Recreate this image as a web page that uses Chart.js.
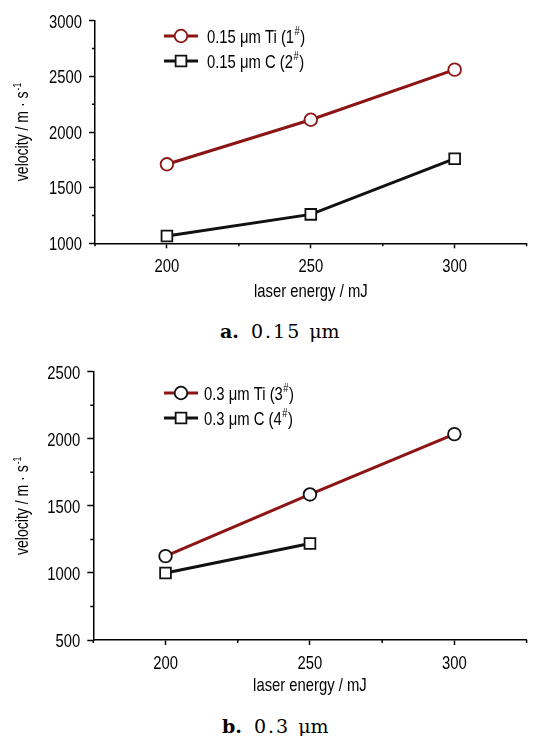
<!DOCTYPE html>
<html>
<head>
<meta charset="utf-8">
<script src="https://cdn.jsdelivr.net/npm/chart.js@4.4.1/dist/chart.umd.min.js"></script>
<style>
  body { margin: 0; background: #fff; }
  #page { position: relative; width: 536px; height: 736px; overflow: hidden; background: #fff; }
  .plot { position: absolute; left: 0; }
  .cap { position: absolute; font-family: 'DejaVu Serif', 'Liberation Serif', serif; font-size: 19px; line-height: 19px; white-space: pre; color: #000; }
  .cap b { margin-right: 12px; }
  .cap .num { letter-spacing: 2px; margin-right: 8px; }
</style>
</head>
<body>
<div id="page">
  <canvas id="chartA" class="plot" style="top:0" width="536" height="301"></canvas>
  <div class="cap" style="left:220px;top:322px"><b>a.</b><span class="num">0.15</span><span>μm</span></div>
  <canvas id="chartB" class="plot" style="top:350px" width="536" height="348"></canvas>
  <div class="cap" style="left:222px;top:717px"><b>b.</b><span class="num">0.3</span><span>μm</span></div>
</div>
<script>
// laser energy (mJ) on the x axis
var energy = [200, 250, 300];
var energyTicks = [200, 250, 300];

// panel a: 0.15 um films
var tiA = [1710, 2110, 2560];
var cA = [1065, 1260, 1760];
var velTicksA = [1000, 1500, 2000, 2500, 3000];
var labelsA = ['0.15 μm Ti', '0.15 μm C'];
var sampleNoA = ['1', '2'];

// panel b: 0.3 um films (no C shot at 300 mJ)
var tiB = [1125, 1585, 2035];
var cB = [1000, 1220, null];
var velTicksB = [500, 1000, 1500, 2000, 2500];
var labelsB = ['0.3 μm Ti', '0.3 μm C'];
var sampleNoB = ['3', '4'];

var FONT = "'Liberation Sans', Arial, sans-serif";
var SQUEEZE = 0.78;   // Arial Narrow look from Liberation Sans
var TXT = 19;
var RED = '#8c1414';
var BLACK = '#111';

function toPoints(ys) {
    var pts = [];
    for (var i = 0; i < energy.length; i++) {
        if (ys[i] !== null && ys[i] !== undefined) pts.push({ x: energy[i], y: ys[i] });
    }
    return pts;
}

// ticks halfway between the labelled ones, plus one step past each end
function minorsOf(ticks) {
    var half = (ticks[1] - ticks[0]) / 2;
    var out = [ticks[0] - half];
    ticks.forEach(function (t) { out.push(t + half); });
    return out;
}

// horizontally squeezed text, returns drawn width
function narrowText(ctx, text, x, y, align, size) {
    ctx.save();
    ctx.font = size + 'px ' + FONT;
    ctx.textAlign = 'left';
    ctx.textBaseline = 'alphabetic';
    var w = ctx.measureText(text).width * SQUEEZE;
    var left = align === 'right' ? x - w : (align === 'center' ? x - w / 2 : x);
    ctx.translate(left, y);
    ctx.scale(SQUEEZE, 1);
    ctx.fillText(text, 0, 0);
    ctx.restore();
    return w;
}
function narrowWidth(ctx, text, size) {
    ctx.save();
    ctx.font = size + 'px ' + FONT;
    var w = ctx.measureText(text).width * SQUEEZE;
    ctx.restore();
    return w;
}

var minorTicks = {
    id: 'minorTicks',
    afterDraw: function (chart, args, o) {
        var ctx = chart.ctx, xs = chart.scales.x, ys = chart.scales.y;
        ctx.save();
        ctx.strokeStyle = '#000';
        ctx.lineWidth = 1.5;
        ctx.beginPath();
        o.x.forEach(function (v) {
            if (v < xs.min || v > xs.max) return;
            var px = xs.getPixelForValue(v);
            ctx.moveTo(px, xs.top);
            ctx.lineTo(px, xs.top + o.len);
        });
        o.y.forEach(function (v) {
            if (v < ys.min || v > ys.max) return;
            var py = ys.getPixelForValue(v);
            ctx.moveTo(ys.right, py);
            ctx.lineTo(ys.right - o.len, py);
        });
        ctx.stroke();
        ctx.restore();
    }
};

// tick labels and axis titles in the narrow face
var axisText = {
    id: 'axisText',
    afterDraw: function (chart, args, o) {
        var ctx = chart.ctx, xs = chart.scales.x, ys = chart.scales.y;
        var half = 0.716 * TXT / 2;
        ctx.save();
        ctx.fillStyle = '#000';
        xs.ticks.forEach(function (t) {
            narrowText(ctx, String(t.value), xs.getPixelForValue(t.value), xs.top + 28.5, 'center', TXT);
        });
        ys.ticks.forEach(function (t) {
            narrowText(ctx, String(t.value), ys.right - 13, ys.getPixelForValue(t.value) + half, 'right', TXT);
        });
        narrowText(ctx, o.xTitle, (xs.left + xs.right) / 2, xs.top + o.xTitleGap, 'center', TXT);

        // y title, rotated, with superscript unit power
        var main = o.yTitle[0], sup = o.yTitle[1];
        var wMain = narrowWidth(ctx, main, 18), wSup = narrowWidth(ctx, sup, 11);
        var mid = (ys.top + ys.bottom) / 2;
        ctx.translate(28, mid);
        ctx.rotate(-Math.PI / 2);
        var start = -(wMain + wSup + 1) / 2;
        narrowText(ctx, main, start, 0, 'left', 18);
        narrowText(ctx, sup, start + wMain + 1, -7, 'left', 11);
        ctx.restore();
    }
};

// legend drawn inside the plot: line + marker, label, sample number with superscript #
var sampleLegend = {
    id: 'sampleLegend',
    afterDatasetsDraw: function (chart, args, o) {
        var ctx = chart.ctx;
        chart.data.datasets.forEach(function (ds, i) {
            var y = o.rows[i];
            var mx = (o.x0 + o.x1) / 2;
            ctx.save();
            ctx.strokeStyle = ds.borderColor;
            ctx.lineWidth = 3;
            ctx.beginPath();
            ctx.moveTo(o.x0, y);
            ctx.lineTo(o.x1, y);
            ctx.stroke();

            ctx.fillStyle = '#fff';
            ctx.strokeStyle = ds.pointBorderColor;
            ctx.lineWidth = ds.pointBorderWidth;
            ctx.beginPath();
            if (ds.pointStyle === 'rect') {
                var s = ds.pointRadius * Math.SQRT1_2;
                ctx.rect(mx - s, y - s, 2 * s, 2 * s);
            } else {
                ctx.arc(mx, y, ds.pointRadius, 0, Math.PI * 2);
            }
            ctx.fill();
            ctx.stroke();

            ctx.fillStyle = '#000';
            var base = y + 0.716 * TXT / 2;
            var x = o.textX;
            x += narrowText(ctx, ds.label + ' (' + o.numbers[i], x, base, 'left', TXT) + 0.5;
            x += narrowText(ctx, '#', x, base - 7.5, 'left', 12) + 0.5;
            narrowText(ctx, ')', x, base, 'left', TXT);
            ctx.restore();
        });
    }
};

function makeChart(id, ti, c, velTicks, labels, numbers, lay) {
    return new Chart(document.getElementById(id), {
        type: 'line',
        data: {
            datasets: [
                {
                    label: labels[0],
                    data: toPoints(ti),
                    borderColor: RED,
                    borderWidth: 3,
                    pointStyle: 'circle',
                    pointRadius: 6.3,
                    pointBorderWidth: 1.8,
                    pointBackgroundColor: '#fff',
                    pointBorderColor: lay.tiMarker
                },
                {
                    label: labels[1],
                    data: toPoints(c),
                    borderColor: BLACK,
                    borderWidth: 3,
                    pointStyle: 'rect',
                    pointRadius: 7.6,
                    pointBorderWidth: 1.8,
                    pointBackgroundColor: '#fff',
                    pointBorderColor: BLACK
                }
            ]
        },
        options: {
            responsive: false,
            animation: false,
            layout: { padding: { top: lay.top, left: 0, right: 0, bottom: 0 } },
            elements: { line: { tension: 0 } },
            scales: {
                x: {
                    type: 'linear',
                    min: 175,
                    max: 325,
                    afterBuildTicks: function (s) { s.ticks = energyTicks.map(function (v) { return { value: v }; }); },
                    afterFit: function (s) { s.height = lay.xHeight; },
                    grid: { drawOnChartArea: false, drawTicks: true, tickLength: 5, tickColor: '#000', tickWidth: 1.5 },
                    border: { display: true, color: '#000', width: 1.5 },
                    ticks: { display: false }
                },
                y: {
                    min: velTicks[0],
                    max: velTicks[velTicks.length - 1],
                    afterBuildTicks: function (s) { s.ticks = velTicks.map(function (v) { return { value: v }; }); },
                    afterFit: function (s) { s.width = lay.axisX; },
                    grid: { drawOnChartArea: false, drawTicks: true, tickLength: 6, tickColor: '#000', tickWidth: 1.5 },
                    border: { display: true, color: '#000', width: 1.5 },
                    ticks: { display: false }
                }
            },
            plugins: {
                legend: { display: false },
                tooltip: { enabled: false },
                minorTicks: { x: minorsOf(energyTicks), y: minorsOf(velTicks), len: 3 },
                axisText: { xTitle: 'laser energy / mJ', yTitle: ['velocity / m · s', '-1'], xTitleGap: lay.xTitleGap },
                sampleLegend: { rows: lay.rows, x0: 164, x1: 198, textX: lay.textX, numbers: numbers }
            }
        },
        plugins: [minorTicks, axisText, sampleLegend]
    });
}

makeChart('chartA', tiA, cA, velTicksA, labelsA, sampleNoA,
    { top: 20.7, xHeight: 57.7, axisX: 95, xTitleGap: 54, rows: [36, 61], textX: 207, tiMarker: RED });
makeChart('chartB', tiB, cB, velTicksB, labelsB, sampleNoB,
    { top: 21.7, xHeight: 58, axisX: 93.3, xTitleGap: 51, rows: [43, 68], textX: 204, tiMarker: BLACK });
</script>
</body>
</html>
